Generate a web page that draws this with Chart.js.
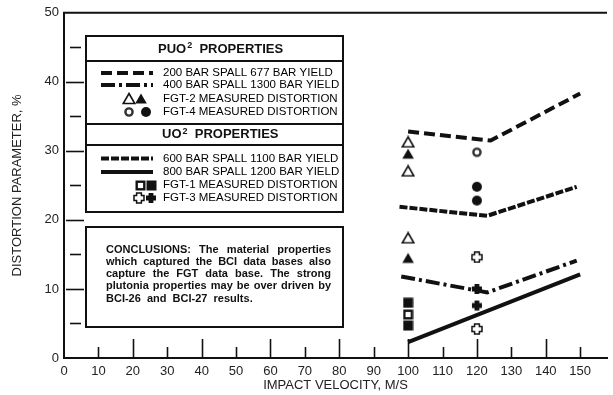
<!DOCTYPE html>
<html>
<head>
<meta charset="utf-8">
<script src="https://cdn.jsdelivr.net/npm/chart.js@4/dist/chart.umd.min.js"></script>
<style>
  html, body { margin: 0; padding: 0; background: #fff; }
  canvas { display: block; }
</style>
</head>
<body>
<canvas id="c" width="613" height="395"></canvas>
<script>
// Axis tick values
const xTicks = [0, 10, 20, 30, 40, 50, 60, 70, 80, 90, 100, 110, 120, 130, 140, 150];
const yTicks = [0, 10, 20, 30, 40, 50];

// PuO2 model curves (impact velocity m/s, distortion %)
const spall200X = [100, 124, 150];
const spall200Y = [32.8, 31.5, 38.3];
const spall400X = [98, 123, 149];
const spall400Y = [11.8, 9.5, 14.1];

// UO2 model curves
const spall600X = [97.5, 123, 149];
const spall600Y = [21.9, 20.6, 24.8];
const spall800X = [100, 150];
const spall800Y = [2.3, 12.1];

// Measured distortion
const fgt12Velocity = 100;
const fgt34Velocity = 120;
const fgt2OpenY = [31.3, 27.1, 17.4];
const fgt2SolidY = [29.6, 14.5];
const fgt4OpenY = [29.8];
const fgt4SolidY = [24.8, 22.8];
const fgt1OpenY = [6.3];
const fgt1SolidY = [8.0, 4.7];
const fgt3OpenY = [14.6, 4.2];
const fgt3SolidY = [10.0, 7.6];

const INK = '#111';
const FONT = '"Liberation Sans", Arial, sans-serif';

const dash200 = [11, 5];
const dash400 = [14, 4, 3, 4];
const dash600 = [8, 2];

// ---- marker sprites ----
function sprite(w, h, paint) {
  const cv = document.createElement('canvas');
  cv.width = w; cv.height = h;
  const g = cv.getContext('2d');
  g.fillStyle = INK; g.strokeStyle = INK;
  paint(g, w, h);
  return cv;
}
function triangle(filled) {
  return sprite(14, 13, (g) => {
    g.beginPath();
    g.moveTo(7, 1.5); g.lineTo(12.8, 11.5); g.lineTo(1.2, 11.5); g.closePath();
    if (filled) g.fill(); else { g.lineWidth = 1.6; g.stroke(); }
  });
}
function circle(filled) {
  return sprite(12, 12, (g) => {
    g.beginPath();
    if (filled) { g.arc(6, 6, 5, 0, Math.PI * 2); g.fill(); }
    else { g.arc(6, 6, 3.6, 0, Math.PI * 2); g.lineWidth = 2.4; g.strokeStyle = '#333'; g.stroke(); }
  });
}
function square(filled) {
  return sprite(11, 11, (g) => {
    if (filled) g.fillRect(0.5, 0.5, 10, 10);
    else { g.lineWidth = 2.4; g.strokeRect(1.7, 1.7, 7.6, 7.6); }
  });
}
function cross(filled) {
  return sprite(12, 12, (g) => {
    const a = 3.6, b = 8.4, e = 1, f = 11;
    g.beginPath();
    g.moveTo(a, e); g.lineTo(b, e); g.lineTo(b, a); g.lineTo(f, a); g.lineTo(f, b);
    g.lineTo(b, b); g.lineTo(b, f); g.lineTo(a, f); g.lineTo(a, b); g.lineTo(e, b);
    g.lineTo(e, a); g.lineTo(a, a); g.closePath();
    if (filled) g.fill(); else { g.lineWidth = 1.5; g.stroke(); }
  });
}
const mk = {
  triOpen: triangle(false), triSolid: triangle(true),
  cirOpen: circle(false), cirSolid: circle(true),
  sqOpen: square(false), sqSolid: square(true),
  crOpen: cross(false), crSolid: cross(true)
};

const pts = (xs, ys) => xs.map((x, i) => ({ x, y: ys[i] }));
const at = (x, ys) => ys.map(y => ({ x, y }));

function curve(label, xs, ys, dash) {
  return {
    type: 'line', label, data: pts(xs, ys),
    borderColor: INK, borderWidth: 4, borderDash: dash, borderCapStyle: 'butt',
    borderJoinStyle: 'miter', pointRadius: 0, tension: 0, fill: false, order: 2
  };
}
function marks(label, x, ys, img) {
  return {
    type: 'scatter', label, data: at(x, ys),
    pointStyle: img, pointRadius: 5, backgroundColor: INK, borderColor: INK, order: 1
  };
}

// ---- annotation panels (property key + conclusions) ----
const panels = {
  id: 'panels',
  afterDatasetsDraw(chart) {
    const ctx = chart.ctx;
    ctx.save();
    ctx.strokeStyle = INK; ctx.fillStyle = INK;

    const L = 86, R = 343;
    // key box
    ctx.lineWidth = 2;
    ctx.fillStyle = '#fff';
    ctx.fillRect(L, 36, R - L, 176);
    ctx.strokeRect(L, 36, R - L, 176);
    [61, 124, 145].forEach(y => {
      ctx.beginPath(); ctx.moveTo(L, y); ctx.lineTo(R, y); ctx.stroke();
    });
    ctx.fillStyle = INK;

    function header(x, y, a, b) {
      ctx.textBaseline = 'middle'; ctx.textAlign = 'left';
      ctx.font = 'bold 13px ' + FONT;
      ctx.fillText(a, x, y);
      let w = ctx.measureText(a).width;
      ctx.font = 'bold 9px ' + FONT;
      ctx.fillText('2', x + w + 1, y - 3);
      w += ctx.measureText('2').width + 1;
      ctx.font = 'bold 13px ' + FONT;
      ctx.fillText('  ' + b, x + w, y);
    }
    header(158, 49, 'PUO', 'PROPERTIES');
    header(162, 134.5, 'UO', 'PROPERTIES');

    function sample(y, dash) {
      ctx.save();
      ctx.lineWidth = 4; ctx.setLineDash(dash); ctx.lineCap = 'butt';
      ctx.beginPath(); ctx.moveTo(101, y); ctx.lineTo(153, y); ctx.stroke();
      ctx.restore();
    }
    function icon(img, x, y) {
      ctx.drawImage(img, Math.round(x - img.width / 2), Math.round(y - img.height / 2));
    }
    function entry(y, text) {
      ctx.font = '11.5px ' + FONT; ctx.textBaseline = 'middle'; ctx.textAlign = 'left';
      ctx.fillStyle = '#000';
      ctx.fillText(text, 163, y);
    }
    sample(73, dash200); entry(73, '200 BAR SPALL 677 BAR YIELD');
    sample(85, dash400); entry(85, '400 BAR SPALL 1300 BAR YIELD');
    icon(mk.triOpen, 129, 98); icon(mk.triSolid, 141, 98); entry(98.5, 'FGT-2 MEASURED DISTORTION');
    icon(mk.cirOpen, 129, 111.5); icon(mk.cirSolid, 146, 111.5); entry(111.5, 'FGT-4 MEASURED DISTORTION');
    sample(158.5, dash600); entry(158.5, '600 BAR SPALL 1100 BAR YIELD');
    sample(172, []); entry(172, '800 BAR SPALL 1200 BAR YIELD');
    icon(mk.sqOpen, 140, 185); icon(mk.sqSolid, 151, 185); entry(185, 'FGT-1 MEASURED DISTORTION');
    icon(mk.crOpen, 139, 198); icon(mk.crSolid, 151, 198); entry(198, 'FGT-3 MEASURED DISTORTION');

    // conclusions box
    ctx.lineWidth = 2;
    ctx.fillStyle = '#fff';
    ctx.fillRect(L, 227, R - L, 100);
    ctx.strokeRect(L, 227, R - L, 100);
    ctx.fillStyle = INK;
    const lines = [
      'CONCLUSIONS:  The material properties',
      'which captured the BCI data bases also',
      'capture the FGT data base.  The strong',
      'plutonia properties may be over driven by',
      'BCI-26 and BCI-27 results.'
    ];
    const ys = [249.5, 262, 274.2, 286.4, 298.6];
    ctx.font = 'bold 11px ' + FONT; ctx.textBaseline = 'middle'; ctx.textAlign = 'left';
    const x0 = 106, x1 = 331;
    lines.forEach((ln, i) => {
      const words = ln.split(/\s+/);
      if (i === lines.length - 1) {
        let x = x0;
        words.forEach(w => { ctx.fillText(w, x, ys[i]); x += ctx.measureText(w + '  ').width; });
        return;
      }
      const total = words.reduce((s, w) => s + ctx.measureText(w).width, 0);
      const gap = (x1 - x0 - total) / (words.length - 1);
      let x = x0;
      words.forEach(w => { ctx.fillText(w, x, ys[i]); x += ctx.measureText(w).width + gap; });
    });
    ctx.restore();
  }
};

// ---- frame: top rule and inward tick marks ----
const frame = {
  id: 'frame',
  afterDraw(chart) {
    const { ctx, chartArea: a, scales: { x, y } } = chart;
    ctx.save();
    ctx.strokeStyle = INK; ctx.lineWidth = 2;
    ctx.beginPath(); ctx.moveTo(a.left - 1, a.top); ctx.lineTo(a.right, a.top); ctx.stroke();
    ctx.lineWidth = 1.6;
    for (let v = 10; v <= 150; v += 10) {
      const px = Math.round(x.getPixelForValue(v)) + 0.5;
      const len = v % 20 === 0 ? 19 : 11;
      ctx.beginPath(); ctx.moveTo(px, a.bottom); ctx.lineTo(px, a.bottom - len); ctx.stroke();
    }
    for (let v = 5; v < 50; v += 5) {
      const py = Math.round(y.getPixelForValue(v)) + 0.5;
      const major = v % 10 === 0;
      const s = major ? 2 : 6, e = major ? 20 : 17;
      ctx.beginPath(); ctx.moveTo(a.left + s, py); ctx.lineTo(a.left + e, py); ctx.stroke();
    }
    ctx.restore();
  }
};

new Chart(document.getElementById('c'), {
  data: {
    datasets: [
      marks('FGT-2 open', fgt12Velocity, fgt2OpenY, mk.triOpen),
      marks('FGT-2 solid', fgt12Velocity, fgt2SolidY, mk.triSolid),
      marks('FGT-4 open', fgt34Velocity, fgt4OpenY, mk.cirOpen),
      marks('FGT-4 solid', fgt34Velocity, fgt4SolidY, mk.cirSolid),
      marks('FGT-1 solid', fgt12Velocity, fgt1SolidY, mk.sqSolid),
      marks('FGT-1 open', fgt12Velocity, fgt1OpenY, mk.sqOpen),
      marks('FGT-3 open', fgt34Velocity, fgt3OpenY, mk.crOpen),
      marks('FGT-3 solid', fgt34Velocity, fgt3SolidY, mk.crSolid),
      curve('200 BAR SPALL 677 BAR YIELD', spall200X, spall200Y, dash200),
      curve('400 BAR SPALL 1300 BAR YIELD', spall400X, spall400Y, dash400),
      curve('600 BAR SPALL 1100 BAR YIELD', spall600X, spall600Y, dash600),
      curve('800 BAR SPALL 1200 BAR YIELD', spall800X, spall800Y, [])
    ]
  },
  options: {
    responsive: false,
    animation: false,
    devicePixelRatio: 1,
    events: [],
    layout: { padding: { top: 12, right: 0, left: 0, bottom: 0 } },
    plugins: { legend: { display: false }, tooltip: { enabled: false } },
    scales: {
      x: {
        type: 'linear', min: 0, max: 157.8,
        afterFit(s) { s.height = 37; },
        afterBuildTicks(s) { s.ticks = xTicks.map(v => ({ value: v })); },
        grid: { display: true, drawOnChartArea: false, drawTicks: false },
        border: { display: true, color: INK, width: 2 },
        ticks: { color: '#222', font: { family: FONT, size: 13 }, padding: 6, maxRotation: 0, autoSkip: false },
        title: { display: true, text: 'IMPACT VELOCITY, M/S', color: '#222',
                 font: { family: FONT, size: 13 }, padding: { top: 0, bottom: 2 } }
      },
      y: {
        type: 'linear', min: 0, max: 50,
        afterFit(s) { s.width = 64; },
        afterBuildTicks(s) { s.ticks = yTicks.map(v => ({ value: v })); },
        grid: { display: true, drawOnChartArea: false, drawTicks: false },
        border: { display: true, color: INK, width: 2 },
        ticks: { color: '#222', font: { family: FONT, size: 13 }, padding: 5 },
        title: { display: true, text: 'DISTORTION PARAMETER, %', color: '#222',
                 font: { family: FONT, size: 13 }, padding: { top: 10, bottom: 0 } }
      }
    }
  },
  plugins: [panels, frame]
});
</script>
</body>
</html>
